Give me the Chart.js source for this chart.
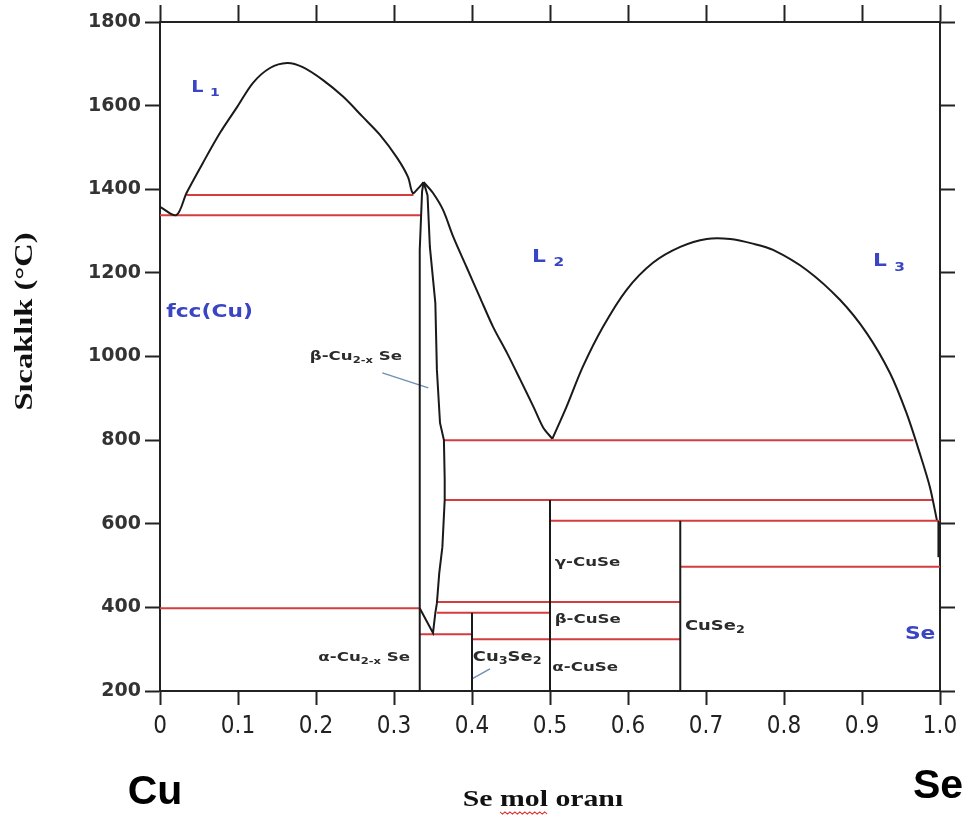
<!DOCTYPE html>
<html>
<head>
<meta charset="utf-8">
<script src="https://cdn.jsdelivr.net/npm/chart.js@4.4.1/dist/chart.umd.min.js"></script>
<style>
    body { margin: 0; background: #fff; }
</style>
</head>
<body>
<canvas id="phaseMap" width="968" height="818"></canvas>
<script>

// CU - SE PHASE DIAGRAM / x = Se mole fraction, y = temperature (°C)

var xTickLabels = ["0", "0.1", "0.2", "0.3", "0.4", "0.5", "0.6", "0.7", "0.8", "0.9", "1.0"];

// liquidus L1 (Cu side dome)
var liq1X = [0, 0.021, 0.034, 0.055, 0.077, 0.099, 0.119, 0.141, 0.163, 0.183, 0.209, 0.235, 0.260, 0.282, 0.304, 0.318, 0.324, 0.331, 0.338];
var liq1Y = [1358, 1338, 1391, 1463, 1535, 1597, 1654, 1690, 1702, 1692, 1661, 1621, 1573, 1530, 1475, 1429, 1391, 1402, 1417];

// liquidus L2 falling to the eutectic
var liq2X = [0.338, 0.350, 0.363, 0.376, 0.393, 0.410, 0.427, 0.445, 0.462, 0.479, 0.491, 0.503];
var liq2Y = [1417, 1391, 1350, 1286, 1214, 1142, 1071, 1008, 944, 879, 831, 803];

// miscibility dome L2 / L3
var domeX = [0.503, 0.521, 0.542, 0.568, 0.598, 0.632, 0.667, 0.701, 0.731, 0.760, 0.786, 0.829, 0.872, 0.906, 0.936, 0.957, 0.974, 0.987, 0.996];
var domeY = [803, 879, 975, 1071, 1159, 1224, 1262, 1281, 1281, 1270, 1255, 1207, 1135, 1056, 960, 865, 769, 688, 609];

// beta-Cu2-xSe lens
var lensLeftX = [0.333, 0.333, 0.336, 0.338];
var lensLeftY = [200, 1255, 1395, 1417];
var lensRightX = [0.338, 0.343, 0.346, 0.353, 0.355, 0.359, 0.364, 0.365, 0.365, 0.362, 0.358, 0.355, 0.353, 0.350, 0.333];
var lensRightY = [1417, 1385, 1262, 1128, 968, 841, 800, 705, 657, 544, 482, 410, 387, 339, 398];

// compound lines: x, from T, to T
var phaseX = [0.4, 0.5, 0.667, 0.998];
var phaseFrom = [200, 200, 200, 520];
var phaseTo = [387, 657, 607, 607];

// invariant (tie) lines: from x, to x, T
var tieFrom = [0.034, 0, 0.364, 0.365, 0.5, 0.667, 0.356, 0, 0.355, 0.333, 0.4];
var tieTo = [0.325, 0.335, 0.966, 0.991, 1.0, 1.0, 0.667, 0.333, 0.5, 0.4, 0.667];
var tieT = [1386, 1338, 800, 657, 607, 497, 413, 398, 387, 336, 324];

// leader lines to the small fields
var leaders = [
    [[0.285, 961], [0.344, 925]],
    [[0.400, 229], [0.423, 253]]
];

// region labels: "_" starts a subscript
var labels = [
    { parts: ["L ", "_1"], x: 0.040, y: 1642, kind: "liquid", size: 15 },
    { parts: ["fcc(Cu)"], x: 0.008, y: 1104, kind: "liquid", size: 17 },
    { parts: ["L ", "_2"], x: 0.477, y: 1236, kind: "liquid", size: 17 },
    { parts: ["L ", "_3"], x: 0.914, y: 1226, kind: "liquid", size: 17 },
    { parts: ["Se"], x: 0.955, y: 336, kind: "liquid", size: 17 },
    { parts: ["β-Cu", "_2-x", " Se"], x: 0.192, y: 999, kind: "solid", size: 13 },
    { parts: ["α-Cu", "_2-x", " Se"], x: 0.203, y: 279, kind: "solid", size: 13 },
    { parts: ["Cu", "_3", "Se", "_2"], x: 0.401, y: 281, kind: "solid", size: 14 },
    { parts: ["γ-CuSe"], x: 0.506, y: 506, kind: "solid", size: 13 },
    { parts: ["β-CuSe"], x: 0.506, y: 370, kind: "solid", size: 13 },
    { parts: ["α-CuSe"], x: 0.503, y: 257, kind: "solid", size: 13 },
    { parts: ["CuSe", "_2"], x: 0.673, y: 355, kind: "solid", size: 14 }
];

function pts(xs, ys) {
    return xs.map(function (x, i) { return { x: x, y: ys[i] }; });
}

function curve(data, tension) {
    return {
        data: data,
        showLine: true,
        borderColor: "#1a1a1a",
        borderWidth: 2,
        pointRadius: 0,
        tension: tension,
        fill: false
    };
}

var datasets = [
    curve(pts(liq1X, liq1Y), 0.3),
    curve(pts(liq2X, liq2Y), 0.3),
    curve(pts(domeX, domeY), 0.3),
    curve(pts(lensLeftX, lensLeftY), 0),
    curve(pts(lensRightX, lensRightY), 0)
];

phaseX.forEach(function (x, i) {
    datasets.push(curve([{ x: x, y: phaseFrom[i] }, { x: x, y: phaseTo[i] }], 0));
});

tieT.forEach(function (t, i) {
    datasets.push({
        data: [{ x: tieFrom[i], y: t }, { x: tieTo[i], y: t }],
        showLine: true,
        borderColor: "#d43d40",
        borderWidth: 2,
        pointRadius: 0
    });
});

leaders.forEach(function (l) {
    datasets.push({
        data: [{ x: l[0][0], y: l[0][1] }, { x: l[1][0], y: l[1][1] }],
        showLine: true,
        borderColor: "#6f8db5",
        borderWidth: 1.3,
        pointRadius: 0
    });
});

function drawRich(ctx, parts, x, y, size, color, sx, weight, family) {
    ctx.save();
    ctx.translate(x, y);
    ctx.scale(sx, 1);
    ctx.fillStyle = color;
    ctx.textBaseline = "middle";
    ctx.textAlign = "left";
    var cx = 0;
    parts.forEach(function (p) {
        var sub = p.charAt(0) === "_";
        var t = sub ? p.slice(1) : p;
        var fs = sub ? Math.round(size * 0.72) : size;
        ctx.font = weight + " " + fs + "px " + family;
        ctx.fillText(t, cx, sub ? size * 0.32 : 0);
        cx += ctx.measureText(t).width;
    });
    ctx.restore();
}

var textPlugin = {
    id: "phaseText",
    afterDraw: function (chart) {
        var ctx = chart.ctx;
        var xs = chart.scales.x, ys = chart.scales.y, area = chart.chartArea;
        var sans = "'DejaVu Sans', sans-serif";
        var serif = "'Liberation Serif', 'Times New Roman', serif";

        labels.forEach(function (lb) {
            var color = lb.kind === "liquid" ? "#3a45c4" : "#2b2b2b";
            drawRich(ctx, lb.parts, xs.getPixelForValue(lb.x), ys.getPixelForValue(lb.y), lb.size, color, 1.28, "bold", sans);
        });

        // axis title (rotated)
        ctx.save();
        ctx.translate(area.left - 135, (area.top + area.bottom) / 2 - 35);
        ctx.rotate(-Math.PI / 2);
        ctx.scale(1.25, 1);
        ctx.font = "bold 26px " + serif;
        ctx.fillStyle = "#111";
        ctx.textAlign = "center";
        ctx.textBaseline = "middle";
        ctx.fillText("Sıcaklık (°C)", 0, 0);
        ctx.restore();

        // element names under the axis
        ctx.save();
        ctx.fillStyle = "#000";
        ctx.textAlign = "center";
        ctx.textBaseline = "middle";
        ctx.font = "bold 41px 'Liberation Sans', Arial, sans-serif";
        ctx.fillText("Cu", area.left - 5, area.bottom + 102);
        ctx.fillText("Se", area.right - 2, area.bottom + 96);
        ctx.restore();

        // x title with the spell-check squiggle under "mol"
        var tx = (area.left + area.right) / 2 - 7, ty = area.bottom + 109;
        ctx.save();
        ctx.translate(tx, ty);
        ctx.scale(1.24, 1);
        ctx.font = "bold 24px " + serif;
        ctx.fillStyle = "#111";
        ctx.textAlign = "left";
        ctx.textBaseline = "middle";
        var full = ctx.measureText("Se mol oranı").width;
        var pre = ctx.measureText("Se ").width;
        var mol = ctx.measureText("mol").width;
        ctx.fillText("Se mol oranı", -full / 2, 0);
        ctx.strokeStyle = "#e03030";
        ctx.lineWidth = 1;
        ctx.beginPath();
        var sx0 = -full / 2 + pre, k = 0;
        for (var px = sx0; px <= sx0 + mol; px += 2) {
            if (k === 0) ctx.moveTo(px, 12);
            else ctx.lineTo(px, k % 2 ? 14 : 12);
            k++;
        }
        ctx.stroke();
        ctx.restore();
    }
};

var gridStyle = function (len) {
    return {
        display: true,
        drawOnChartArea: false,
        drawTicks: true,
        tickLength: len,
        tickWidth: 2,
        tickColor: "#222"
    };
};
var borderStyle = { display: true, color: "#222", width: 2 };

var phaseMap = new Chart("phaseMap", {
    type: "scatter",
    data: { datasets: datasets },
    options: {
        responsive: false,
        animation: false,
        devicePixelRatio: 1,
        layout: { padding: 0 },
        plugins: { legend: { display: false }, tooltip: { enabled: false } },
        scales: {
            x: {
                type: "linear", position: "bottom", min: 0, max: 1,
                ticks: {
                    stepSize: 0.1,
                    color: "#222",
                    padding: 7,
                    maxRotation: 0,
                    font: { family: "'Liberation Sans Narrow', 'DejaVu Sans Condensed', sans-serif", size: 24 },
                    callback: function (v, i) { return xTickLabels[i]; }
                },
                grid: gridStyle(14),
                border: borderStyle,
                afterFit: function (s) { s.height = 127; }
            },
            x2: {
                type: "linear", position: "top", min: 0, max: 1,
                ticks: { stepSize: 0.1, display: false },
                grid: gridStyle(17),
                border: borderStyle,
                afterFit: function (s) { s.height = 22; }
            },
            y: {
                type: "linear", position: "left", min: 200, max: 1800,
                ticks: {
                    stepSize: 200,
                    color: "#333",
                    padding: 4,
                    font: { family: "'DejaVu Sans', sans-serif", size: 19, weight: "bold" },
                    callback: function (v) { return String(v); }
                },
                grid: gridStyle(15),
                border: borderStyle,
                afterFit: function (s) { s.width = 160; }
            },
            y2: {
                type: "linear", position: "right", min: 200, max: 1800,
                ticks: { stepSize: 200, display: false },
                grid: gridStyle(15),
                border: borderStyle,
                afterFit: function (s) { s.width = 28; }
            }
        }
    },
    plugins: [textPlugin]
});
</script>
</body>
</html>
